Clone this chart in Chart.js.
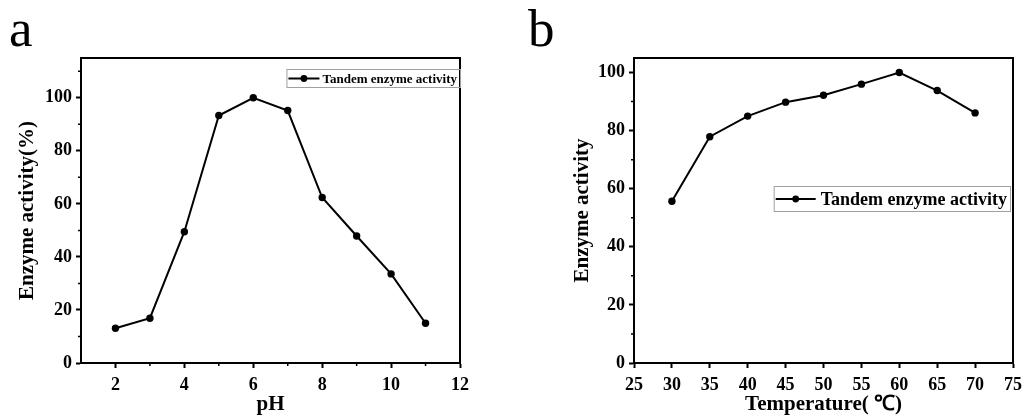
<!DOCTYPE html>
<html>
<head>
<meta charset="utf-8">
<script src="https://cdn.jsdelivr.net/npm/chart.js@4.4.1/dist/chart.umd.min.js"></script>
<style>
  body { margin: 0; background: #fff; }
  #wrap { position: relative; width: 1025px; height: 417px; background: #fff; overflow: hidden; }
  .panel { position: absolute; top: 0; height: 417px; }
  .lbl { position: absolute; top: 2px; font: 53px "Liberation Serif", serif; line-height: 1; color: #000; }
</style>
</head>
<body>
<div id="wrap">
  <div class="panel" style="left:0;width:480px"><canvas id="chartA" width="480" height="417"></canvas></div>
  <div class="panel" style="left:520px;width:505px"><canvas id="chartB" width="505" height="417"></canvas></div>
  <div class="lbl" style="left:9px">a</div>
  <div class="lbl" style="left:528px">b</div>
</div>
<script>
// data
const seriesLabel = "Tandem enzyme activity";
const phValues = [2, 3, 4, 5, 6, 7, 8, 9, 10, 11];
const phActivity = [13.1, 16.9, 49.5, 93.3, 100, 95.2, 62.4, 47.9, 33.6, 15.0];
const phTicks = [2, 4, 6, 8, 10, 12];
const phMinor = [3, 5, 7, 9, 11];

const tempValues = [30, 35, 40, 45, 50, 55, 60, 65, 70];
const tempActivity = [55.7, 77.9, 85.0, 89.8, 92.2, 96.0, 100, 93.8, 86.1];
const tempTicks = [25, 30, 35, 40, 45, 50, 55, 60, 65, 70, 75];

const activityTicks = [0, 20, 40, 60, 80, 100];
const activityMinorA = [10, 30, 50, 70, 90, 110];
const activityMinorB = [10, 30, 50, 70, 90];

const serif = "'Liberation Serif', 'Times New Roman', serif";

// box around plot, minor ticks, and the boxed legend
const extras = {
  id: "extras",
  afterDraw(chart, args, o) {
    const ctx = chart.ctx, a = chart.chartArea;
    const x = chart.scales.x, y = chart.scales.y;
    ctx.save();
    ctx.strokeStyle = "#000";
    ctx.lineWidth = 2;
    ctx.beginPath();
    ctx.moveTo(a.left, a.top); ctx.lineTo(a.right, a.top); ctx.lineTo(a.right, a.bottom);
    ctx.stroke();
    ctx.lineWidth = 1.5;
    ctx.beginPath();
    (o.xMinor || []).forEach(v => {
      const px = x.getPixelForValue(v);
      ctx.moveTo(px, a.bottom); ctx.lineTo(px, a.bottom + 3);
    });
    (o.yMinor || []).forEach(v => {
      const py = y.getPixelForValue(v);
      ctx.moveTo(a.left, py); ctx.lineTo(a.left - 3, py);
    });
    ctx.stroke();

    // legend
    const L = o.legend;
    ctx.font = "bold " + L.size + "px " + serif;
    const tw = ctx.measureText(seriesLabel).width;
    const bx = L.right - (2 + L.sample + L.gap + tw + 3);
    ctx.strokeStyle = "#a0a0a0";
    ctx.lineWidth = 1;
    ctx.strokeRect(bx + 0.5, L.top + 0.5, L.right - bx, L.height);
    const my = L.top + L.height / 2 + 0.5;
    ctx.strokeStyle = "#000";
    ctx.lineWidth = 2;
    ctx.beginPath(); ctx.moveTo(bx + 2, my); ctx.lineTo(bx + 2 + L.sample, my); ctx.stroke();
    ctx.fillStyle = "#000";
    ctx.beginPath(); ctx.arc(bx + 2 + L.sample / 2, my, 3.4, 0, Math.PI * 2); ctx.fill();
    ctx.textBaseline = "middle";
    ctx.textAlign = "left";
    ctx.fillText(seriesLabel, bx + 2 + L.sample + L.gap, my + 1);
    ctx.restore();
  }
};

function makeChart(id, xs, ys, cfg) {
  return new Chart(document.getElementById(id), {
    type: "line",
    data: {
      datasets: [{
        label: seriesLabel,
        data: xs.map((v, i) => ({ x: v, y: ys[i] })),
        borderColor: "#000",
        backgroundColor: "#000",
        borderWidth: 2,
        pointRadius: 3.7,
        pointBorderWidth: 0,
        tension: 0
      }]
    },
    options: {
      responsive: false,
      animation: false,
      layout: { padding: { top: 58, right: cfg.padRight, left: 0, bottom: 0 } },
      plugins: {
        legend: { display: false },
        tooltip: { enabled: false },
        extras: { xMinor: cfg.xMinor, yMinor: cfg.yMinor, legend: cfg.legend }
      },
      scales: {
        x: {
          type: "linear",
          min: cfg.xMin, max: cfg.xMax,
          afterBuildTicks: s => { s.ticks = cfg.xTicks.map(v => ({ value: v })); },
          afterFit: s => { s.height = 54; s.paddingLeft = 0; s.paddingRight = 0; },
          grid: { drawOnChartArea: false, tickLength: 5, tickWidth: 2, tickColor: "#000" },
          border: { color: "#000", width: 2 },
          ticks: { color: "#000", padding: 7, maxRotation: 0, font: { family: serif, size: 18, weight: "bold" } },
          title: { display: true, text: cfg.xTitle, color: "#000", padding: { top: 0, bottom: 0 },
                   font: { family: serif, size: 21, weight: "bold" } }
        },
        y: {
          min: 0, max: cfg.yMax,
          afterBuildTicks: s => { s.ticks = activityTicks.map(v => ({ value: v })); },
          afterFit: s => { s.width = cfg.yWidth; },
          grid: { drawOnChartArea: false, tickLength: 5, tickWidth: 2, tickColor: "#000" },
          border: { color: "#000", width: 2 },
          ticks: { color: "#000", padding: 4, font: { family: serif, size: 18, weight: "bold" } },
          title: { display: true, text: cfg.yTitle, color: "#000", padding: { top: cfg.yTitlePad, bottom: 0 },
                   font: { family: serif, size: 21, weight: "bold" } }
        }
      }
    },
    plugins: [extras]
  });
}

makeChart("chartA", phValues, phActivity, {
  xMin: 1, xMax: 12, xTicks: phTicks, xMinor: phMinor,
  yMax: 115, yMinor: activityMinorA,
  yWidth: 81, padRight: 20, yTitlePad: 15,
  xTitle: "pH", yTitle: "Enzyme activity(%)",
  legend: { right: 460, top: 69, height: 18, size: 13, sample: 31, gap: 3 }
});

makeChart("chartB", tempValues, tempActivity, {
  xMin: 25, xMax: 75, xTicks: tempTicks, xMinor: [],
  yMax: 105, yMinor: activityMinorB,
  yWidth: 114, padRight: 12, yTitlePad: 50,
  xTitle: "Temperature( \u2103)", yTitle: "Enzyme activity",
  legend: { right: 490, top: 186, height: 25, size: 18, sample: 40, gap: 5 }
});
</script>
</body>
</html>
